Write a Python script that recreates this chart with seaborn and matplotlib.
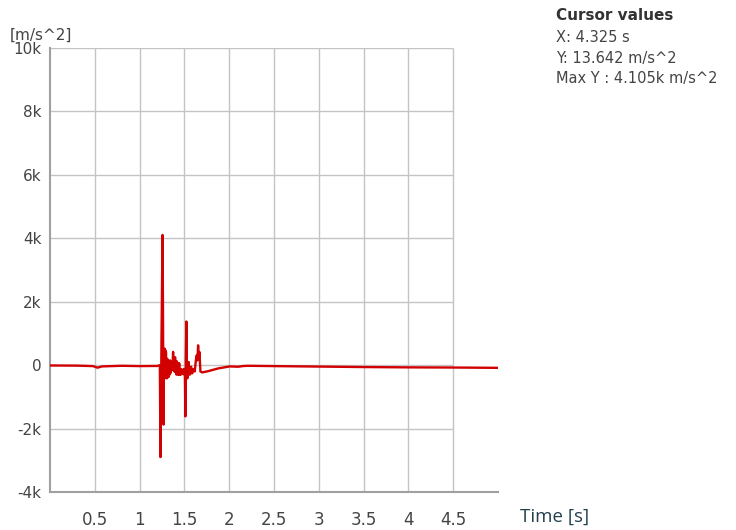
import numpy as np
import pandas as pd
import matplotlib
matplotlib.use('Agg')
import matplotlib.pyplot as plt
import seaborn as sns

# Señal de aceleración leída a ojo del gráfico original
tiempo = [0.00, 0.30, 0.48, 0.53, 0.58, 0.80, 1.00, 1.20, 1.226,
          1.233, 1.245, 1.256, 1.262, 1.265, 1.268, 1.272, 1.279, 1.283, 1.286,
          1.290, 1.294, 1.298, 1.302, 1.306, 1.310, 1.314, 1.317, 1.321, 1.325,
          1.329, 1.332, 1.336, 1.340, 1.345, 1.350, 1.355, 1.360, 1.366, 1.374,
          1.378, 1.382, 1.386, 1.389, 1.393, 1.396, 1.400, 1.404, 1.408, 1.412,
          1.416, 1.419, 1.423, 1.427, 1.431, 1.434, 1.438, 1.442, 1.446, 1.450,
          1.456, 1.463, 1.470, 1.478, 1.485, 1.493, 1.500, 1.506, 1.511, 1.516,
          1.522, 1.527, 1.533, 1.540, 1.548, 1.554, 1.560, 1.568, 1.575, 1.583,
          1.590, 1.598, 1.605, 1.616, 1.624, 1.630, 1.638, 1.645, 1.653, 1.660,
          1.668, 1.679, 1.698, 1.765, 1.876, 2.006, 2.10, 2.15, 2.20, 2.50,
          3.00, 3.50, 4.00, 4.50, 5.00]
aceleracion = [-10, -15, -30, -80, -40, -20, -30, -25, 0,
               -2900, 1000, 4105, 1250, -1200, -1875, 300, 520, -350, 480,
               -400, 417, -250, -417, 150, 200, -300, 0, -380, -350,
               100, -310, -150, 150, -250, -200, 50, 100, -150, 417,
               -150, -100, 200, -200, 50, 250, -220, 100, -100, -300,
               120, 80, -280, -250, 50, -310, -200, 60, -250, -280,
               -310, -120, -150, -280, -250, -120, -300, -350, -1615, 200,
               1375, 100, -417, -150, 100, -250, -300, -100, -50, -260,
               -250, -120, -150, -200, 50, 200, 310, 150, 625, 200,
               417, -200, -230, -190, -104, -40, -50, -30, -20, -30,
               -45, -60, -70, -75, -85]

x_ticks = [0.5, 1, 1.5, 2, 2.5, 3, 3.5, 4, 4.5]
x_labels = ['0.5', '1', '1.5', '2', '2.5', '3', '3.5', '4', '4.5']
y_ticks = [-4000, -2000, 0, 2000, 4000, 6000, 8000, 10000]
y_labels = ['-4k', '-2k', '0', '2k', '4k', '6k', '8k', '10k']

cursor_lines = ['X: 4.325 s', 'Y: 13.642 m/s^2', 'Max Y : 4.105k m/s^2']

df = pd.DataFrame({'t': tiempo, 'a': aceleracion})

sns.set_style('white')
plt.rcParams['font.family'] = ['DejaVu Sans']

fig = plt.figure(figsize=(7.36, 5.30), dpi=100)
ax = fig.add_axes([50 / 736, 38 / 530, 448 / 736, 444 / 530])

# Rejilla: las líneas horizontales se cortan en 4.5 s como en el original
gris = '#c4c4c4'
ax.vlines(x_ticks, -4000, 10000, colors=gris, linewidth=1.0, zorder=1)
ax.hlines(y_ticks[1:], 0, 4.5, colors=gris, linewidth=1.0, zorder=1)

sns.lineplot(data=df, x='t', y='a', ax=ax, color='#d20000', linewidth=1.7,
             zorder=3, sort=False)

ax.set_xlim(0, 5.0)
ax.set_ylim(-4000, 10000)
ax.set_xticks(x_ticks)
ax.set_xticklabels(x_labels, family=['Liberation Sans Narrow', 'DejaVu Sans'],
                   fontsize=12, color='#444444')
ax.set_yticks(y_ticks)
ax.set_yticklabels(y_labels, fontsize=11, color='#444444')
ax.tick_params(axis='y', length=4, width=1, color='#999999', pad=2)
ax.tick_params(axis='x', length=4, width=1, color='#999999', pad=10)
ax.set_xlabel('')
ax.set_ylabel('')

for lado in ['top', 'right']:
    ax.spines[lado].set_visible(False)
for lado in ['left', 'bottom']:
    ax.spines[lado].set_color('#a0a0a0')
    ax.spines[lado].set_linewidth(1.5)

fig.text(10 / 736, 1 - 35 / 530, '[m/s^2]', fontsize=11, color='#444444',
         va='center', ha='left')
fig.text(520 / 736, 1 - 517 / 530, 'Time [s]', fontsize=13.5,
         family=['Open Sans', 'DejaVu Sans'], color='#23404f',
         va='center', ha='left')

fig.text(556 / 736, 1 - 16 / 530, 'Cursor values', fontsize=11,
         fontweight='bold', color='#333333', va='center', ha='left')
for i, linea in enumerate(cursor_lines):
    fig.text(556 / 736, 1 - (38 + 20 * i) / 530, linea, fontsize=10.5,
             color='#444444', va='center', ha='left')

fig.savefig('out.png', dpi=100)
